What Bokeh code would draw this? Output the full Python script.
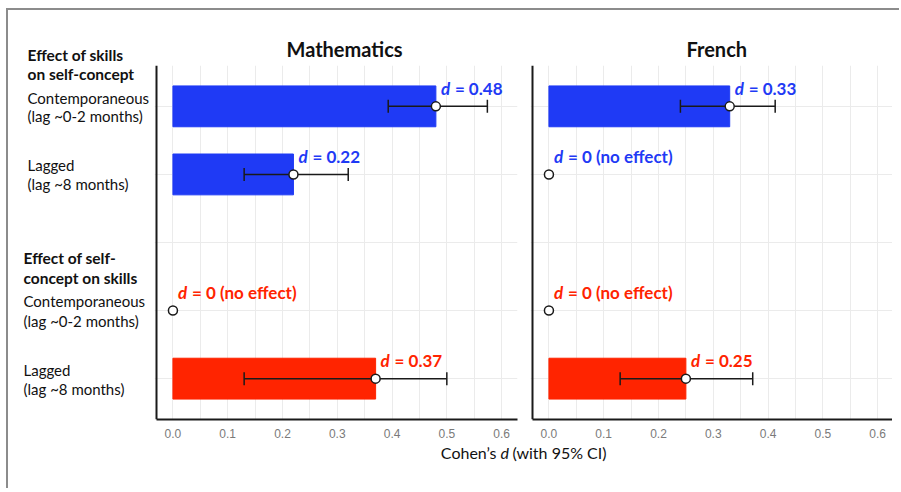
from bokeh.plotting import figure
from bokeh.models import Range1d, FixedTicker, Label, NumeralTickFormatter, Grid, Span, Div, Spacer
from bokeh.layouts import row, column
from bokeh.embed import file_html
from bokeh.resources import INLINE
from bokeh.core.properties import value

# ---------------- data ----------------
rows = [1, 2, 4, 5]            # row positions (row 3 is the gap between groups)
row_colors = ["#1f3af5", "#1f3af5", "#ff2400", "#ff2400"]

math_d = [0.48, 0.22, 0.0, 0.37]
math_lo = [0.393, 0.13, None, 0.13]
math_hi = [0.574, 0.32, None, 0.50]

french_d = [0.33, 0.0, 0.0, 0.25]
french_lo = [0.24, None, None, 0.13]
french_hi = [0.413, None, None, 0.372]

x_ticks = [0.0, 0.1, 0.2, 0.3, 0.4, 0.5, 0.6]
x_minor = [0.05, 0.15, 0.25, 0.35, 0.45, 0.55]
panel_titles = ["Mathematics", "French"]

FONT = "Lato"
XMIN, XMAX = -0.03, 0.629
YTOP, YBOT = 0.4, 5.6
FH = 354
PXX = (XMAX - XMIN) / 361
PXY = (YBOT - YTOP) / FH
TOP, BOTTOM = 55, 25


def fmt(v):
    return "= 0 (no effect)" if v == 0 else f"= {v:.2f}"


def style_title(t, offset, size="20px", standoff=9):
    t.align = "left"
    t.offset = offset
    t.standoff = standoff
    t.text_font = FONT
    t.text_font_size = size
    t.text_font_style = "bold"
    t.text_color = "#111111"


def panel(title, d, lo, hi, fw, br, offset):
    p = figure(frame_width=fw, frame_height=FH,
               x_range=Range1d(XMIN - 2 * PXX, XMIN + (fw - 2) * PXX),
               y_range=Range1d(YBOT, YTOP), y_axis_type=None,
               output_backend="svg", toolbar_location=None,
               min_border_left=0, min_border_right=br,
               min_border_top=TOP, min_border_bottom=BOTTOM)
    p.outline_line_color = None
    p.title.text = title
    style_title(p.title, offset)

    p.xaxis.ticker = FixedTicker(ticks=x_ticks, minor_ticks=x_minor)
    p.xgrid.ticker = FixedTicker(ticks=x_ticks, minor_ticks=x_minor)
    p.xaxis.bounds = (XMIN, XMAX)
    p.xaxis.formatter = NumeralTickFormatter(format="0.0")
    p.xaxis.major_tick_line_color = None
    p.xaxis.minor_tick_line_color = None
    p.xaxis.axis_line_width = 2
    p.xaxis.axis_line_color = "#1a1a1a"
    p.xaxis.major_label_text_font = "Liberation Sans"
    p.xaxis.major_label_text_font_size = "12px"
    p.xaxis.major_label_text_color = "#7a7a7a"
    p.xaxis.major_label_standoff = 3
    p.xgrid.grid_line_color = "#ebebeb"
    p.xgrid.minor_grid_line_color = "#ebebeb"

    p.add_layout(Grid(dimension=1, ticker=FixedTicker(ticks=[1, 2, 3, 4, 5]),
                      grid_line_color="#ebebeb"))
    p.add_layout(Span(location=XMIN, dimension="height", line_color="#1a1a1a", line_width=2))

    # bars
    by = [r for r, v in zip(rows, d) if v > 0]
    bv = [v for v in d if v > 0]
    bc = [c for c, v in zip(row_colors, d) if v > 0]
    p.hbar(y=by, left=0, right=bv, height=0.6, fill_color=bc, line_color=bc)

    # error bars
    ey = [r for r, l in zip(rows, lo) if l is not None]
    el = [l for l in lo if l is not None]
    eh = [h for h in hi if h is not None]
    cap = 6.5 * PXY
    p.segment(x0=el, y0=ey, x1=eh, y1=ey, line_color="#1a1a1a", line_width=1.5)
    p.segment(x0=el, y0=[y - cap for y in ey], x1=el, y1=[y + cap for y in ey],
              line_color="#1a1a1a", line_width=1.5)
    p.segment(x0=eh, y0=[y - cap for y in ey], x1=eh, y1=[y + cap for y in ey],
              line_color="#1a1a1a", line_width=1.5)

    # points
    p.scatter(x=d, y=rows, size=9, fill_color="white", line_color="#1a1a1a", line_width=1.5)

    # value labels
    ly = [r - 18 * PXY for r in rows]
    p.text(x=d, y=ly, text=["d"] * len(d), x_offset=5, text_color=row_colors,
           text_font=value(FONT), text_font_style="bold italic", text_font_size="17px",
           text_baseline="middle", text_align="left")
    p.text(x=d, y=ly, text=[fmt(v) for v in d], x_offset=19, text_color=row_colors,
           text_font=value(FONT), text_font_style="bold", text_font_size="17px",
           text_baseline="middle", text_align="left")
    return p


# page geometry: content starts at x=8, y=10
p1 = panel(panel_titles[0], math_d, math_lo, math_hi, 363, 13, 132)
p2 = panel(panel_titles[1], french_d, french_lo, french_hi, 362, 0, 156)

# row labels: a figure to the left, in page-pixel coordinates, same frame as the panels
FTOP = 10 + TOP
p0 = figure(frame_width=146, frame_height=FH,
            x_range=Range1d(8, 154), y_range=Range1d(FTOP + FH, FTOP),
            x_axis_type=None, y_axis_type=None,
            min_border_left=0, min_border_right=0,
            min_border_top=TOP, min_border_bottom=BOTTOM,
            output_backend="svg", toolbar_location=None)
p0.outline_line_color = None
p0.xgrid.visible = False
p0.ygrid.visible = False
p0.title.text = "Effect of skills"
style_title(p0.title, 19, "15.5px", 3)


def row_px(r):
    return FTOP + (r - YTOP) / PXY


row_text = [
    (27, 1, -32, "on self-concept", "bold"),
    (27, 1, -8.5, "Contemporaneous", "normal"),
    (27, 1, 10, "(lag ~0-2 months)", "normal"),
    (27, 2, -9, "Lagged", "normal"),
    (27, 2, 10, "(lag ~8 months)", "normal"),
    (23, 4, -53, "Effect of self-", "bold"),
    (23, 4, -32.5, "concept on skills", "bold"),
    (23, 4, -9.5, "Contemporaneous", "normal"),
    (23, 4, 10, "(lag ~0-2 months)", "normal"),
    (23, 5, -9, "Lagged", "normal"),
    (23, 5, 10, "(lag ~8 months)", "normal"),
]
for xpx, r, dy, t, style in row_text:
    p0.add_layout(Label(x=xpx, y=row_px(r) + dy, text=t,
                        text_align="left", text_baseline="middle",
                        text_font=FONT, text_font_style=style,
                        text_font_size="15.5px" if style == "bold" else "15px",
                        text_color="#111111"))

# shared x-axis title
p3 = figure(width=884, height=24, x_range=Range1d(8, 892), y_range=Range1d(468, 444),
            x_axis_type=None, y_axis_type=None, min_border=0,
            output_backend="svg", toolbar_location=None)
p3.outline_line_color = None
p3.xgrid.visible = False
p3.ygrid.visible = False
p3.add_layout(Label(x=496, y=452, text="Cohen’s", text_align="right", text_baseline="middle",
                    text_font=FONT, text_font_size="16px", text_color="#111111"))
p3.add_layout(Label(x=500, y=452, text="d", text_align="left", text_baseline="middle",
                    text_font=FONT, text_font_style="italic", text_font_size="16px",
                    text_color="#111111"))
p3.add_layout(Label(x=512, y=452, text="(with 95% CI)", text_align="left", text_baseline="middle",
                    text_font=FONT, text_font_size="16px", text_color="#111111"))

# grey frame of the picture (top and left edges)
hline = Div(text="", width=893, height=2, margin=0, styles={"background-color": "#8c8c8c"})
vline = Div(text="", width=2, height=478, margin=0, styles={"background-color": "#8c8c8c"})

layout = column(
    Spacer(height=8, margin=0),
    row(Spacer(width=6, margin=0),
        column(hline,
               row(vline, column(row(p0, p1, p2), p3)))))

open("out.html", "w").write(file_html(layout, INLINE))
